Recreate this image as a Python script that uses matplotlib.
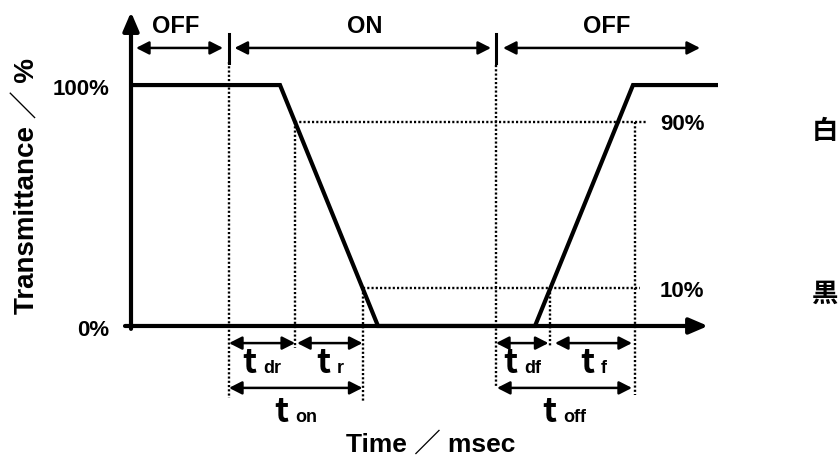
import numpy as np
import matplotlib
matplotlib.use('Agg')
import matplotlib.pyplot as plt
from matplotlib.offsetbox import TextArea, HPacker, AnnotationBbox

plt.rcParams['font.family'] = ['Liberation Sans', 'Noto Sans CJK JP', 'DejaVu Sans']

# waveform (time in arbitrary units, transmittance in %)
time_pts = [0, 14.9, 24.7, 40.4, 50.2, 58.7]
trans_pts = [100, 100, 0, 0, 100, 100]

switch_on = 9.8
switch_off = 36.5
t_off_end = 50.4
x_axis_end = 57.7
y_axis_end = 130.3

level_hi = 84.6   # drawn level for the "90%" line
level_lo = 15.8   # drawn level for the "10%" line
level_labels = ['90%', '10%']
side_labels = ['白', '黒']
tick_labels = ['100%', '0%']
state_labels = ['OFF', 'ON', 'OFF']

# crossing points of the falling / rising edge
t90_fall = np.interp(level_hi, [0, 100], [time_pts[2], time_pts[1]])
t10_fall = np.interp(level_lo, [0, 100], [time_pts[2], time_pts[1]])
t10_rise = np.interp(level_lo, [0, 100], [time_pts[3], time_pts[4]])

fig = plt.figure(figsize=(8.39, 4.65), dpi=100)
ax = fig.add_axes([0, 0, 1, 1])
ax.set_xlim(-13.1, 70.8)
ax.set_ylim(-57.7, 135.3)
ax.axis('off')

K = 'black'
arr_small = dict(arrowstyle='<|-|>,head_length=0.55,head_width=0.28', color=K, lw=1.8,
                 mutation_scale=14, shrinkA=0, shrinkB=0)
arr_axis = dict(arrowstyle='-|>,head_length=0.7,head_width=0.3', color=K, lw=3,
                mutation_scale=16, shrinkA=0, shrinkB=0)


def darrow(x0, x1, y):
    ax.annotate('', xy=(x1, y), xytext=(x0, y), arrowprops=arr_small)


# axes with arrows
ax.annotate('', xy=(0, y_axis_end), xytext=(0, -1.2), arrowprops=arr_axis)
ax.annotate('', xy=(x_axis_end, 0), xytext=(-0.6, 0), arrowprops=arr_axis)

# waveform
ax.plot(time_pts, trans_pts, color=K, lw=3, solid_joinstyle='miter', solid_capstyle='butt')

# dotted guide lines
dot = dict(color=K, lw=1.7, linestyle=(0, (0.9, 0.9)))
ax.plot([t90_fall, 51.6], [level_hi, level_hi], **dot)
ax.plot([t10_fall, 50.9], [level_lo, level_lo], **dot)
ax.plot([switch_on, switch_on], [109.5, -29.9], **dot)
ax.plot([t90_fall, t90_fall], [level_hi, -9.1], **dot)
ax.plot([t10_fall, t10_fall], [level_lo, -31.5], **dot)
ax.plot([switch_off, switch_off], [108.3, -25.7], **dot)
ax.plot([t10_rise, t10_rise], [level_lo, -8.7], **dot)
ax.plot([t_off_end, t_off_end], [level_hi, -28.6], **dot)

# switching markers and state arrows
for xs in [switch_on, switch_off]:
    ax.plot([xs, xs], [109.1, 121.2], color=K, lw=2.2)
top_y = 115.4
state_spans = [(0.5, switch_on - 0.6), (switch_on + 0.55, switch_off - 0.5),
               (switch_off + 0.7, 56.9)]
state_x = [4.5, 23.4, 47.6]
for (a, b), lab, xl in zip(state_spans, state_labels, state_x):
    darrow(a, b, top_y)
    ax.text(xl, 124.2, lab, ha='center', va='center', fontsize=17, fontweight='bold')

# level labels
ax.text(-2.2, 98, tick_labels[0], ha='right', va='center', fontsize=16, fontweight='bold')
ax.text(-2.2, -2, tick_labels[1], ha='right', va='center', fontsize=16, fontweight='bold')
ax.text(52.9, level_hi - 1, level_labels[0], ha='left', va='center', fontsize=16, fontweight='bold')
ax.text(52.9, level_lo - 1.5, level_labels[1], ha='left', va='center', fontsize=16, fontweight='bold')
ax.text(69.4, 80.7, side_labels[0], ha='center', va='center', fontsize=19, fontweight='bold')
ax.text(69.4, 12.9, side_labels[1], ha='center', va='center', fontsize=19, fontweight='bold')

# timing arrows
spans = [
    ('dr', switch_on, t90_fall, -7.1, -15.6),
    ('r', t90_fall + 0.2, t10_fall, -7.1, -15.6),
    ('on', switch_on, t10_fall, -25.7, -36.0),
    ('df', switch_off, t10_rise - 0.2, -7.1, -15.6),
    ('f', t10_rise + 0.45, t_off_end - 0.3, -7.1, -15.6),
    ('off', switch_off + 0.1, t_off_end - 0.3, -25.7, -36.0),
]
for sub, a, b, ya, yt in spans:
    darrow(a, b, ya)
    box = HPacker(children=[TextArea('t', textprops=dict(fontsize=24, fontweight='bold',
                                                         family='Noto Sans CJK JP')),
                            TextArea(sub, textprops=dict(fontsize=13, fontweight='bold'))],
                  align='baseline', pad=0, sep=5)
    ax.add_artist(AnnotationBbox(box, ((a + b) / 2, yt), frameon=False,
                                 box_alignment=(0.5, 0.5), pad=0))

# axis titles
ax.text(-10.4, 58, 'Transmittance ／ %', rotation=90, ha='center', va='center',
        fontsize=20, fontweight='bold')
ax.text(30.0, -49, 'Time ／ msec', ha='center', va='center', fontsize=19, fontweight='bold')

plt.savefig('out.png', dpi=100)
